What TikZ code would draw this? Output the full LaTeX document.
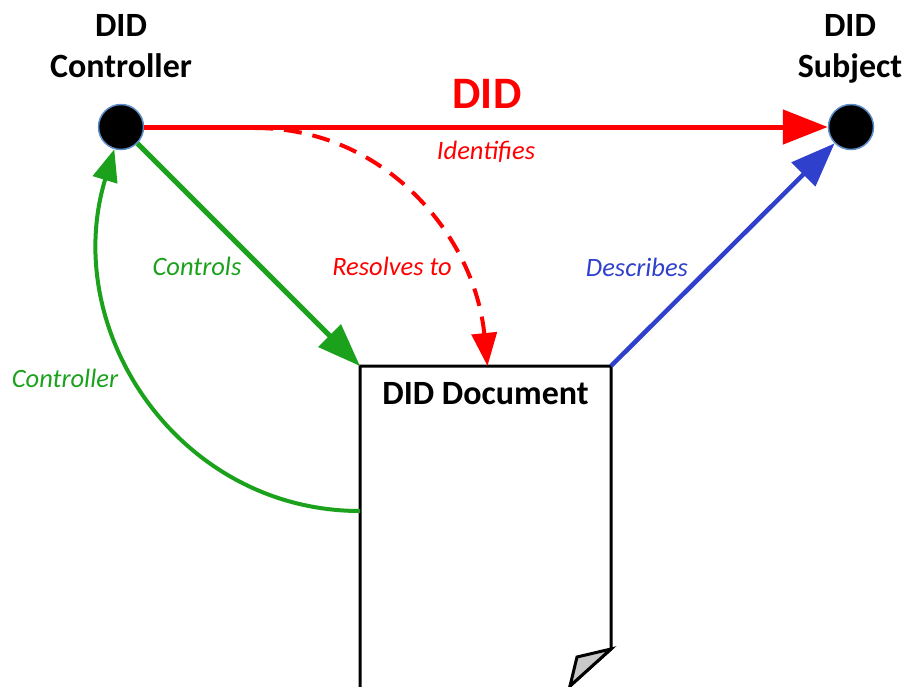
\documentclass[tikz,border=0pt]{standalone}
\usepackage{fontspec}
\setmainfont{Carlito}
\usetikzlibrary{arrows.meta,calc}
\definecolor{dred}{HTML}{FF0000}
\definecolor{dgreen}{HTML}{1BA11B}
\definecolor{dblue}{HTML}{2F41CC}
\definecolor{dotborder}{HTML}{5B8DC8}
\definecolor{foldgray}{HTML}{C8C8C8}
\begin{document}
\begin{tikzpicture}[x=1pt,y=-1pt,
  dot/.style={circle,fill=black,draw=dotborder,line width=1.5pt,minimum size=45pt,inner sep=0pt},
  title/.style={font=\fontsize{34}{41}\selectfont\bfseries,align=center,anchor=base,inner sep=0pt},
  lbl/.style={font=\fontsize{26.5}{30}\selectfont\itshape,anchor=base,inner sep=0pt},
  docline/.style={line width=3pt,line join=miter},
  redarrow/.style={draw=dred,line width=5pt,-{Triangle[length=45pt,width=34pt]}},
  ctrlarrow/.style={draw=dgreen,line width=5pt,-{Triangle[length=43pt,width=31pt]}},
  descarrow/.style={draw=dblue,line width=4.5pt,-{Triangle[length=44pt,width=33pt]}},
  resarrow/.style={draw=dred,line width=4pt,dash pattern=on 18pt off 11pt,-{Triangle[length=33pt,width=25pt]}},
  backarrow/.style={draw=dgreen,line width=4pt,-{Triangle[length=32pt,width=25pt]}}]
\useasboundingbox (0,0) rectangle (908,686);
\begin{scope}
\clip (0,0) rectangle (908,686);
% document shape
\node[minimum width=251pt,minimum height=290pt,inner sep=0pt,outer sep=0pt,anchor=north west] (doc) at (360,366) {};
\draw[docline,fill=white] (360,700) -- (doc.north west) -- (doc.north east) -- (611,649) -- (570,686) -- (570,700) -- cycle;
\filldraw[docline,fill=foldgray] (611,649) -- (577,657) -- (570,686) -- cycle;
\end{scope}
% nodes
\node[dot] (ctrl) at (121,127) {};
\node[dot] (subj) at (851,127) {};
\node[title] (ctrltitle) at (121,77) {DID\\Controller};
\node[title] (subjtitle) at (850,77) {DID\\Subject};
\node[title] (doctitle) at (485.5,404) {DID Document};
\coordinate (rs) at (255,128);
% connectors
\draw[redarrow] (ctrl) -- (subj);
\draw[ctrlarrow] (ctrl) -- (doc.north west);
\draw[descarrow] (doc.north east) -- (subj);
\draw[resarrow] (rs) .. controls +(130,0) and +(-13,-130) .. ($(doc.north)+(2,0)$);
\draw[backarrow] (doc.west) .. controls +(-180,0) and +(-62,205) .. (ctrl);
% labels
\node[font=\fontsize{45}{50}\selectfont\bfseries,text=dred,anchor=base,inner sep=0pt] (didlbl) at (487,108) {DID};
\node[lbl,text=dred] (identlbl) at (486,159) {Identifies};
\node[lbl,text=dgreen] (ctrlslbl) at (197,275) {Controls};
\node[lbl,text=dred] (reslbl) at (392,275) {Resolves to};
\node[lbl,text=dblue] (desclbl) at (637,276) {Describes};
\node[lbl,text=dgreen] (backlbl) at (65,387) {Controller};
\end{tikzpicture}
\end{document}
